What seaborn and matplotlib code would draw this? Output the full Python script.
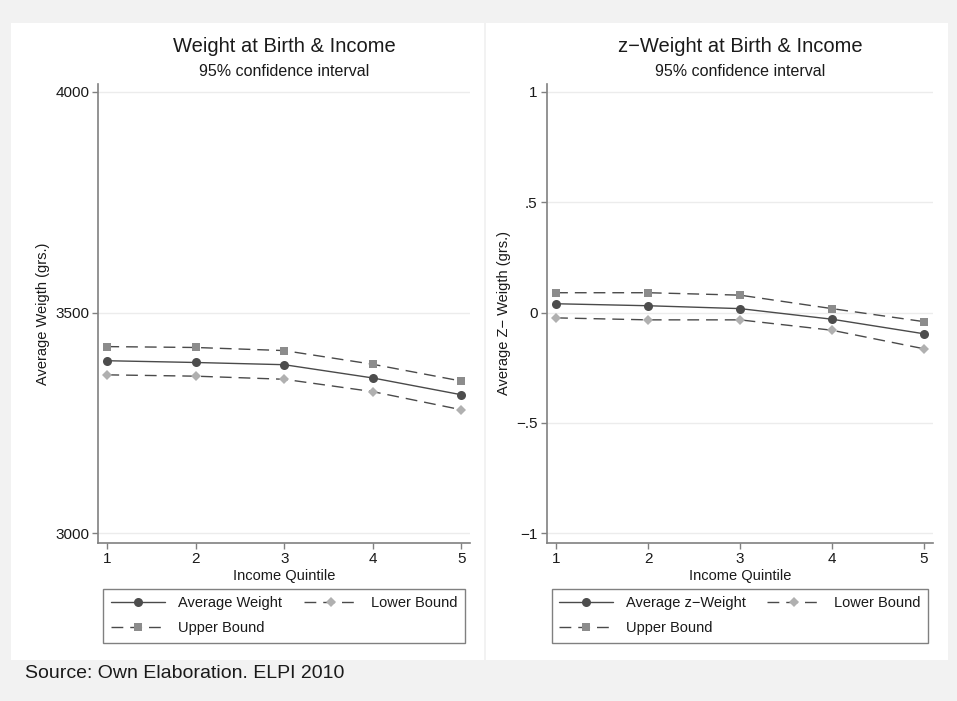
import matplotlib
matplotlib.use("Agg")
import matplotlib.pyplot as plt
from matplotlib.patches import Rectangle
import pandas as pd
import seaborn as sns

# values
quintiles = [1, 2, 3, 4, 5]
weight_avg = [3391, 3387, 3382, 3352, 3314]
weight_upper = [3423, 3421, 3414, 3383, 3345]
weight_lower = [3359, 3356, 3349, 3321, 3280]
zweight_avg = [0.040, 0.031, 0.018, -0.030, -0.096]
zweight_upper = [0.090, 0.090, 0.079, 0.018, -0.041]
zweight_lower = [-0.024, -0.033, -0.033, -0.080, -0.164]

left_ticks = [3000, 3500, 4000]
left_ticklabels = ["3000", "3500", "4000"]
right_ticks = [-1, -0.5, 0, 0.5, 1]
right_ticklabels = ["\u22121", "\u2212.5", "0", ".5", "1"]

sns.set_theme(style="white")
plt.rcParams["font.family"] = ["Liberation Sans", "DejaVu Sans"]

W, H = 957, 701
fig = plt.figure(figsize=(W / 100, H / 100), dpi=100)
fig.patch.set_facecolor("#f2f2f2")

# white panels behind each graph
for x0, x1 in [(11, 484), (486, 948)]:
    fig.add_artist(Rectangle((x0 / W, 1 - 660 / H), (x1 - x0) / W, 637 / H,
                             transform=fig.transFigure, facecolor="white",
                             edgecolor="none", zorder=0))

axis_col = "#808080"
line_col = "#4a4a4a"
dash = (0, (8.5, 5))


def draw_panel(ax, avg, upper, lower, avg_label, ylim, ticks, ticklabels,
               title, ylabel):
    df = pd.DataFrame({"q": quintiles, "avg": avg, "up": upper, "lo": lower})
    sns.lineplot(data=df, x="q", y="avg", ax=ax, color=line_col, lw=1.0,
                 marker="o", markersize=6.5, markeredgewidth=0,
                 markerfacecolor="#4d4d4d", label=avg_label, zorder=4)
    sns.lineplot(data=df, x="q", y="up", ax=ax, color=line_col, lw=1.0,
                 linestyle=dash, marker="s", markersize=5.8,
                 markeredgewidth=0, markerfacecolor="#8c8c8c",
                 label="Upper Bound", zorder=3)
    sns.lineplot(data=df, x="q", y="lo", ax=ax, color=line_col, lw=1.0,
                 linestyle=dash, marker="D", markersize=5.5,
                 markeredgewidth=0, markerfacecolor="#b0b0b0",
                 label="Lower Bound", zorder=3)
    ax.set_facecolor("white")
    ax.set_xlim(0.898, 5.10)
    ax.set_ylim(*ylim)
    ax.set_yticks(ticks)
    ax.set_yticklabels(ticklabels)
    ax.set_xticks(quintiles)
    ax.set_xticklabels([str(q) for q in quintiles])
    for y in ticks:
        ax.axhline(y, color="#ececec", lw=1.0, zorder=1)
    for s in ["top", "right"]:
        ax.spines[s].set_visible(False)
    for s in ["left", "bottom"]:
        ax.spines[s].set_color(axis_col)
        ax.spines[s].set_linewidth(1.2)
    ax.tick_params(axis="both", which="major", direction="out", length=4.5,
                   width=1.0, color=axis_col, labelsize=11,
                   labelcolor="#1a1a1a", pad=2, left=True, bottom=True)
    ax.set_xlabel("Income Quintile", fontsize=10.5, color="#1a1a1a",
                  labelpad=2)
    ax.set_ylabel(ylabel, fontsize=10.5, color="#1a1a1a", labelpad=4)
    ax.get_legend().remove()

    pos = ax.get_position()
    cx = pos.x0 + pos.width / 2
    fig.text(cx, 1 - 47 / H, title, ha="center", va="center", fontsize=14.5,
             color="#1a1a1a")
    fig.text(cx, 1 - 72 / H, "95% confidence interval", ha="center",
             va="center", fontsize=11.5, color="#1a1a1a")

    handles, labels = ax.get_legend_handles_labels()
    order = [labels.index(avg_label), labels.index("Upper Bound"),
             labels.index("Lower Bound")]
    leg = ax.legend([handles[i] for i in order], [labels[i] for i in order],
                    ncol=2, loc="upper left",
                    bbox_to_anchor=(pos.x0 + 5 / W, 0.0856,
                                    pos.width - 10 / W, 1 - 589 / H - 0.0856),
                    bbox_transform=fig.transFigure, mode="expand",
                    fontsize=10.5, frameon=True, fancybox=False,
                    edgecolor=axis_col, framealpha=1, handlelength=3.7,
                    handletextpad=0.9, borderpad=0.5, labelspacing=0.75,
                    columnspacing=1.0, borderaxespad=0)
    leg.get_frame().set_linewidth(1.0)
    for t in leg.get_texts():
        t.set_color("#1a1a1a")


ax1 = fig.add_axes([98.3 / W, 1 - 542.7 / H, 371.7 / W, 458.7 / H])
ax2 = fig.add_axes([546.7 / W, 1 - 542.7 / H, 386.3 / W, 458.7 / H])

draw_panel(ax1, weight_avg, weight_upper, weight_lower, "Average Weight",
           (2978.7, 4018), left_ticks, left_ticklabels,
           "Weight at Birth & Income", "Average Weigth (grs.)")
draw_panel(ax2, zweight_avg, zweight_upper, zweight_lower, "Average z\u2212Weight",
           (-1.043, 1.036), right_ticks, right_ticklabels,
           "z\u2212Weight at Birth & Income", "Average Z\u2212 Weigth (grs.)")

fig.text(25 / W, 1 - 673 / H, "Source: Own Elaboration. ELPI 2010",
         ha="left", va="center", fontsize=14, color="#1a1a1a")

fig.savefig("out.png", dpi=100, facecolor=fig.get_facecolor())
